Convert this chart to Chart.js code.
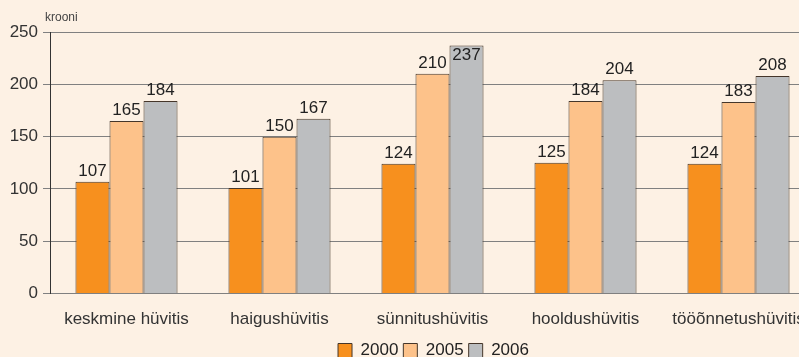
<!DOCTYPE html>
<html>
<head>
<meta charset="utf-8">
<script src="https://cdn.jsdelivr.net/npm/chart.js@4"></script>
<style>
  html, body { margin: 0; padding: 0; background: #fdf1e4; overflow: hidden; }
  #wrap { position: relative; width: 866px; height: 370px; }
  #unit { position: absolute; left: 45px; top: 10px; font: 12px "Liberation Sans", Arial, sans-serif; color: #444; }
</style>
</head>
<body>
<div id="wrap">
  <div id="unit">krooni</div>
  <canvas id="c" width="866" height="370"></canvas>
</div>
<script>
const categories = ['keskmine hüvitis', 'haigushüvitis', 'sünnitushüvitis', 'hooldushüvitis', 'tööõnnetushüvitis'];
const years = ['2000', '2005', '2006'];
const values2000 = [107, 101, 124, 125, 124];
const values2005 = [165, 150, 210, 184, 183];
const values2006 = [184, 167, 237, 204, 208];
const yTicks = [0, 50, 100, 150, 200, 250];

const colors = ['#f7901e', '#fdc28a', '#bcbec0'];
const font = "'Liberation Sans', Arial, sans-serif";

// numbers above each bar; tall bars keep the label inside the plot
const barLabels = {
    id: 'barLabels',
    afterDatasetsDraw(chart) {
        const ctx = chart.ctx;
        ctx.save();
        ctx.font = '17px ' + font;
        ctx.fillStyle = '#222';
        ctx.textAlign = 'center';
        ctx.textBaseline = 'alphabetic';
        chart.data.datasets.forEach((ds, i) => {
            chart.getDatasetMeta(i).data.forEach((bar, j) => {
                const y = Math.max(bar.y - 6, 60);
                ctx.fillText(ds.data[j], bar.x, y);
            });
        });
        ctx.restore();
    }
};

// legend sits a little right of the plot centre
const legendShift = {
    id: 'legendShift',
    afterLayout(chart) {
        chart.legend.left += 26;
        chart.legend.right += 26;
        chart.legend.top -= 1;
        chart.legend.bottom -= 1;
    }
};

new Chart(document.getElementById('c'), {
    type: 'bar',
    data: {
        labels: categories,
        datasets: [values2000, values2005, values2006].map((vals, i) => ({
            label: years[i],
            data: vals,
            backgroundColor: colors[i],
            borderColor: '#45362a',
            borderWidth: 1,
            borderSkipped: 'bottom',
            barPercentage: 1,
            categoryPercentage: 0.667
        }))
    },
    options: {
        responsive: false,
        animation: false,
        layout: { padding: { top: 32, left: 0, right: 51, bottom: 0 } },
        plugins: {
            legend: {
                position: 'bottom',
                labels: {
                    font: { size: 17, family: font },
                    color: '#222',
                    boxWidth: 14,
                    boxHeight: 14,
                    padding: 5,
                    useBorderRadius: false
                }
            },
            tooltip: { enabled: false }
        },
        scales: {
            x: {
                grid: { display: false },
                border: { color: '#808080' },
                ticks: { font: { size: 17, family: font }, color: '#333', padding: 8 }
            },
            y: {
                min: 0,
                max: 250,
                afterBuildTicks: s => { s.ticks = yTicks.map(v => ({ value: v })); },
                afterFit: s => { s.width = 50; },
                grid: { color: '#808080', tickLength: 7 },
                border: { color: '#333' },
                ticks: { font: { size: 17, family: font }, color: '#333', padding: 5 }
            }
        }
    },
    plugins: [barLabels, legendShift]
});
</script>
</body>
</html>
